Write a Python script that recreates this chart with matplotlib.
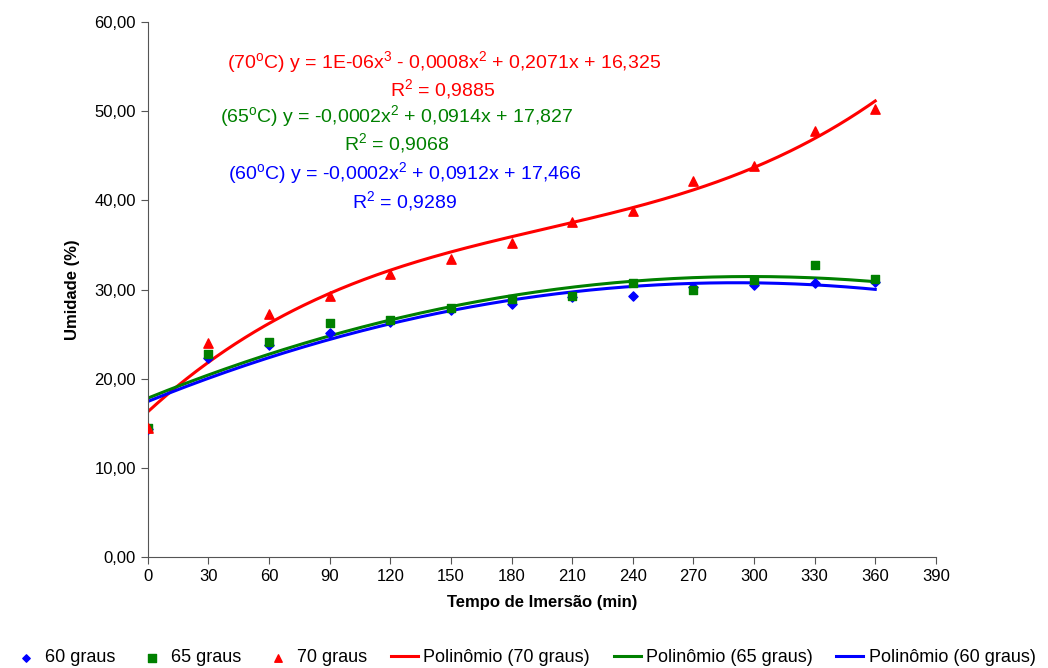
import numpy as np
import matplotlib
matplotlib.use("Agg")
import matplotlib.pyplot as plt
from matplotlib.ticker import FuncFormatter

plt.rcParams["font.family"] = ["Liberation Sans", "DejaVu Sans"]
plt.rcParams["mathtext.fontset"] = "custom"
plt.rcParams["mathtext.rm"] = "Liberation Sans"
plt.rcParams["mathtext.it"] = "Liberation Sans"

tempo = [0, 30, 60, 90, 120, 150, 180, 210, 240, 270, 300, 330, 360]
umid_60 = [14.4, 22.3, 23.8, 25.1, 26.4, 27.7, 28.4, 29.2, 29.3, 30.3, 30.5, 30.7, 30.9]
umid_65 = [14.5, 22.8, 24.1, 26.3, 26.6, 27.9, 28.9, 29.3, 30.7, 29.9, 31.1, 32.7, 31.2]
umid_70 = [14.5, 24.0, 27.3, 29.3, 31.7, 33.4, 35.2, 37.6, 38.8, 42.2, 43.9, 47.8, 50.2]

eq_70 = r"(70$^{\rm o}$C) y = 1E-06x$^{3}$ - 0,0008x$^{2}$ + 0,2071x + 16,325"
r2_70 = r"R$^{2}$ = 0,9885"
eq_65 = r"(65$^{\rm o}$C) y = -0,0002x$^{2}$ + 0,0914x + 17,827"
r2_65 = r"R$^{2}$ = 0,9068"
eq_60 = r"(60$^{\rm o}$C) y = -0,0002x$^{2}$ + 0,0912x + 17,466"
r2_60 = r"R$^{2}$ = 0,9289"

RED = "#ff0000"
GREEN = "#008000"
BLUE = "#0000ff"

fig = plt.figure(figsize=(10.48, 6.68), dpi=100)
ax = fig.add_axes([0.141, 0.166, 0.752, 0.801])

x = np.array(tempo, dtype=float)
xs = np.linspace(0, 360, 300)
fit_70 = np.polyval(np.polyfit(x, umid_70, 3), xs)
fit_65 = np.polyval(np.polyfit(x, umid_65, 2), xs)
fit_60 = np.polyval(np.polyfit(x, umid_60, 2), xs)

h60 = ax.scatter(tempo, umid_60, marker="D", s=22, color=BLUE, zorder=3, label="60 graus")
h65 = ax.scatter(tempo, umid_65, marker="s", s=40, color=GREEN, zorder=3, label="65 graus")
h70 = ax.scatter(tempo, umid_70, marker="^", s=45, color=RED, zorder=3, label="70 graus")
l70, = ax.plot(xs, fit_70, color=RED, lw=2.2, label="Polinômio (70 graus)")
l65, = ax.plot(xs, fit_65, color=GREEN, lw=2.2, label="Polinômio (65 graus)")
l60, = ax.plot(xs, fit_60, color=BLUE, lw=2.2, label="Polinômio (60 graus)")

ax.set_xlim(0, 390)
ax.set_ylim(0, 60)
ax.set_xticks(np.arange(0, 391, 30))
ax.set_yticks(np.arange(0, 61, 10))
ax.yaxis.set_major_formatter(FuncFormatter(lambda v, p: f"{v:.2f}".replace(".", ",")))
ax.tick_params(labelsize=12, direction="out", length=5, color="#555555")
for s in ["top", "right"]:
    ax.spines[s].set_visible(False)
for s in ["left", "bottom"]:
    ax.spines[s].set_color("#555555")

ax.set_xlabel("Tempo de Imersão (min)", fontsize=12, fontweight="bold", labelpad=8)
ax.set_ylabel("Umidade (%)", fontsize=12, fontweight="bold", labelpad=10)

def fig_text(px, py, s, c):
    fig.text(px / 1048, 1 - py / 668, s, color=c, fontsize=14, ha="center", va="center")

fig_text(444, 62, eq_70, RED)
fig_text(443, 89, r2_70, RED)
fig_text(397, 116, eq_65, GREEN)
fig_text(397, 143, r2_65, GREEN)
fig_text(405, 173, eq_60, BLUE)
fig_text(405, 201, r2_60, BLUE)

fig.legend(handles=[h60, h65, h70, l70, l65, l60], loc="lower center", ncol=6,
           bbox_to_anchor=(0.5, -0.022), frameon=False, fontsize=13,
           handlelength=1.5, handletextpad=0.3, columnspacing=1.3, markerscale=0.8)

fig.savefig("out.png", dpi=100)
